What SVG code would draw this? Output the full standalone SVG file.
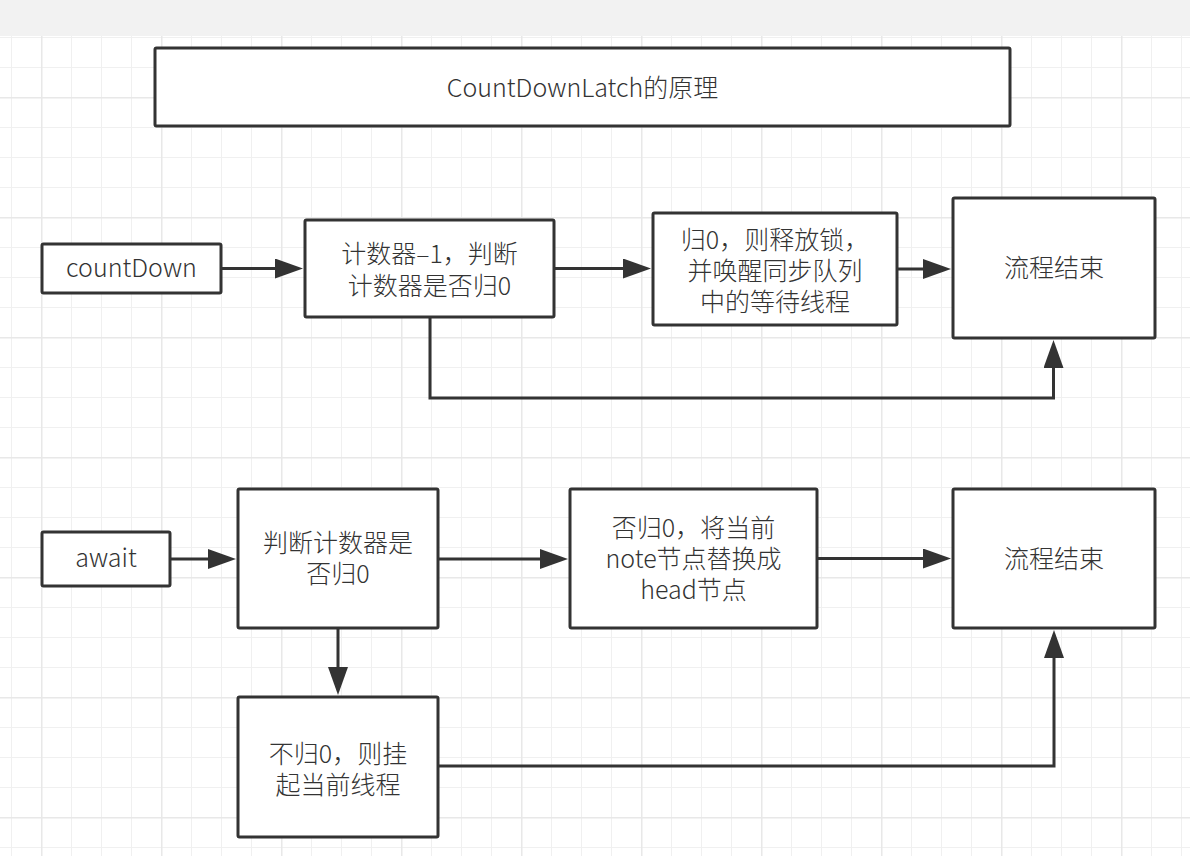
<svg xmlns="http://www.w3.org/2000/svg" width="1190" height="856" viewBox="0 0 1190 856">
  <defs>
    <pattern id="grid" x="41" y="97" width="120" height="120" patternUnits="userSpaceOnUse">
      <rect x="0" y="0" width="120" height="120" fill="#ffffff"/>
      <rect x="30" y="0" width="1" height="120" fill="#f0f0f0"/>
      <rect x="60" y="0" width="1" height="120" fill="#f0f0f0"/>
      <rect x="90" y="0" width="1" height="120" fill="#f0f0f0"/>
      <rect x="0" y="30" width="120" height="1" fill="#f0f0f0"/>
      <rect x="0" y="60" width="120" height="1" fill="#f0f0f0"/>
      <rect x="0" y="90" width="120" height="1" fill="#f0f0f0"/>
      <rect x="0" y="0" width="1.5" height="120" fill="#e8e8e8"/>
      <rect x="0" y="0" width="120" height="1.5" fill="#e8e8e8"/>
    </pattern>
    <marker id="arrow" viewBox="0 0 28 20" markerUnits="userSpaceOnUse" markerWidth="28" markerHeight="20" refX="18" refY="10" orient="auto">
      <path d="M0,0 L28,10 L0,20 Z" fill="#333333"/>
    </marker>
    <style>
      .node rect { fill: #ffffff; stroke: #333333; stroke-width: 3; }
      .node text { font-family: "Noto Sans CJK SC", "Noto Sans", sans-serif; font-size: 25px; font-weight: 300; fill: #333333; text-anchor: middle; }
      #connectors path { fill: none; stroke: #333333; stroke-width: 3; marker-end: url(#arrow); }
    </style>
  </defs>

  <rect x="0" y="0" width="1190" height="856" fill="url(#grid)"/>
  <rect x="0" y="0" width="1190" height="36" fill="#f2f2f2"/>

  <g id="connectors">
    <path d="M221,268.5 H293"/>
    <path d="M554,268.5 H641"/>
    <path d="M897,269 H941"/>
    <path d="M430,317 V398 H1053.5 V350"/>
    <path d="M170,559 H226"/>
    <path d="M438,559 H558"/>
    <path d="M817,558.5 H941"/>
    <path d="M338,628 V685"/>
    <path d="M438,766 H1054 V640"/>
  </g>

  <g id="title" class="node">
    <rect x="155" y="48" width="855" height="78" rx="1.5"/>
    <text x="582.5" y="97">CountDownLatch的原理</text>
  </g>

  <g id="countDown" class="node">
    <rect x="42" y="244" width="179" height="49" rx="1.5"/>
    <text x="131.5" y="277">countDown</text>
  </g>

  <g id="decrement" class="node">
    <rect x="305" y="220" width="249" height="97" rx="1.5"/>
    <text x="429.5" y="263">计数器–1，判断<tspan x="429.5" dy="32">计数器是否归0</tspan></text>
  </g>

  <g id="release" class="node">
    <rect x="653" y="213" width="244" height="112" rx="1.5"/>
    <text x="775" y="249">归0，则释放锁，<tspan x="775" dy="31">并唤醒同步队列</tspan><tspan x="775" dy="31">中的等待线程</tspan></text>
  </g>

  <g id="end1" class="node">
    <rect x="953" y="198" width="202" height="140" rx="1.5"/>
    <text x="1054" y="277">流程结束</text>
  </g>

  <g id="await" class="node">
    <rect x="42" y="532" width="128" height="54" rx="1.5"/>
    <text x="106" y="567">await</text>
  </g>

  <g id="check" class="node">
    <rect x="238" y="489" width="200" height="139" rx="1.5"/>
    <text x="338" y="552">判断计数器是<tspan x="338" dy="31">否归0</tspan></text>
  </g>

  <g id="replaceHead" class="node">
    <rect x="570" y="489" width="247" height="139" rx="1.5"/>
    <text x="693.5" y="537">否归0，将当前<tspan x="693.5" dy="31">note节点替换成</tspan><tspan x="693.5" dy="31">head节点</tspan></text>
  </g>

  <g id="end2" class="node">
    <rect x="953" y="489" width="202" height="139" rx="1.5"/>
    <text x="1054" y="568">流程结束</text>
  </g>

  <g id="suspend" class="node">
    <rect x="238" y="697" width="200" height="140" rx="1.5"/>
    <text x="338" y="763">不归0，则挂<tspan x="338" dy="31">起当前线程</tspan></text>
  </g>
</svg>
